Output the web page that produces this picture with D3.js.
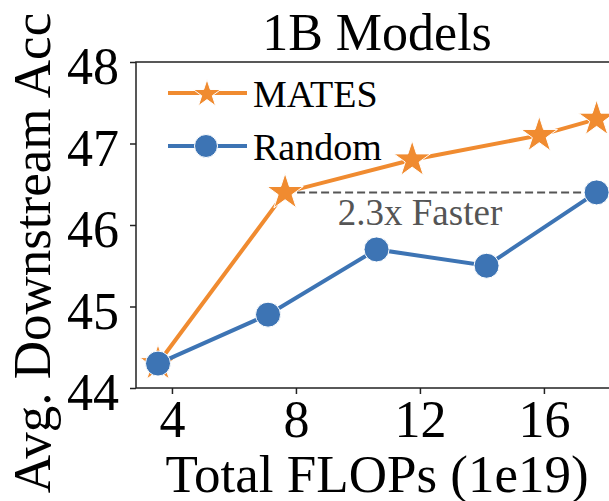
<!DOCTYPE html>
<html>
<head>
<meta charset="utf-8">
<script src="https://cdn.jsdelivr.net/npm/d3@7"></script>
<style>
  html, body { margin: 0; padding: 0; background: #fff; }
  svg { display: block; font-family: "Liberation Serif", "Times New Roman", serif; }
</style>
</head>
<body>
<div id="chart"></div>
<script>
// data
const seriesNames = ["MATES", "Random"]
const matesFlops = [3.55, 7.65, 11.75, 15.85, 17.7]
const matesAcc = [44.3, 46.4, 46.8, 47.1, 47.3]
const randomFlops = [3.55, 7.1, 10.6, 14.15, 17.7]
const randomAcc = [44.3, 44.9, 45.7, 45.5, 46.4]
const xTicks = [4, 8, 12, 16]
const yTicks = [44, 45, 46, 47, 48]
const speedupLabel = "2.3x Faster"

var width = 609, height = 501
var orange = "#f08b30", blue = "#3d74b4"

// the figure is cropped on the right, so the axes run past the svg edge
var x = d3.scaleLinear().domain([2.84, 18.39]).range([136, 618])
var y = d3.scaleLinear().domain([44, 48]).range([388, 62])

var svg = d3.select("#chart").append("svg")
    .attr("width", width)
    .attr("height", height)

// frame
svg.append("rect")
    .attr("x", x.range()[0]).attr("y", y.range()[1])
    .attr("width", x.range()[1] - x.range()[0])
    .attr("height", y.range()[0] - y.range()[1])
    .attr("fill", "none")
    .attr("stroke", "#222")
    .attr("stroke-width", 1.5)

// axes
var xAxis = svg.append("g")
    .attr("transform", "translate(0," + y.range()[0] + ")")
    .call(d3.axisBottom(x).tickValues(xTicks).tickFormat(d3.format("d")).tickSize(6).tickPadding(10))
var yAxis = svg.append("g")
    .attr("transform", "translate(" + x.range()[0] + ",0)")
    .call(d3.axisLeft(y).tickValues(yTicks).tickFormat(d3.format("d")).tickSize(6).tickPadding(11))

;[xAxis, yAxis].forEach(g=>{
  g.select(".domain").remove()
  g.selectAll("line").attr("stroke", "#222").attr("stroke-width", 1.5)
  g.selectAll("text")
    .attr("font-family", "Liberation Serif, serif")
    .attr("font-size", "52px")
    .attr("fill", "#000")
})
xAxis.selectAll("text").attr("dy", "0.71em").attr("y", 12)
yAxis.selectAll("text").attr("dy", "0.42em")

// titles
svg.append("text")
    .attr("x", 377).attr("y", 50)
    .attr("text-anchor", "middle")
    .attr("font-size", "52px")
    .text("1B Models")

svg.append("text")
    .attr("x", 377).attr("y", 492)
    .attr("text-anchor", "middle")
    .attr("font-size", "53px")
    .text("Total FLOPs (1e19)")

svg.append("text")
    .attr("transform", "translate(50,253) rotate(-90)")
    .attr("text-anchor", "middle")
    .attr("font-size", "53px")
    .text("Avg. Downstream Acc")

// speedup annotation
svg.append("line")
    .attr("x1", x(matesFlops[1])).attr("x2", x(randomFlops[4]))
    .attr("y1", y(matesAcc[1])).attr("y2", y(randomAcc[4]))
    .attr("stroke", "#555")
    .attr("stroke-width", 2)
    .attr("stroke-dasharray", "8,4")

svg.append("text")
    .attr("x", 420).attr("y", 225)
    .attr("text-anchor", "middle")
    .attr("font-size", "37px")
    .attr("fill", "#555")
    .text(speedupLabel)

var line = d3.line().x(d=>x(d[0])).y(d=>y(d[1]))
var starPlot = d3.symbol().type(d3.symbolStar).size(410)
var starLegend = d3.symbol().type(d3.symbolStar).size(240)

var mates = d3.zip(matesFlops, matesAcc)
var random = d3.zip(randomFlops, randomAcc)

// MATES
svg.append("path")
    .datum(mates)
    .attr("d", line)
    .attr("fill", "none")
    .attr("stroke", orange)
    .attr("stroke-width", 4)
svg.append("g").selectAll("path")
    .data(mates)
  .enter().append("path")
    .attr("d", starPlot)
    .attr("transform", d=>"translate(" + x(d[0]) + "," + y(d[1]) + ")")
    .attr("fill", orange)
    .attr("stroke", "#fff")
    .attr("stroke-width", 1)

// Random
svg.append("path")
    .datum(random)
    .attr("d", line)
    .attr("fill", "none")
    .attr("stroke", blue)
    .attr("stroke-width", 4)
svg.append("g").selectAll("circle")
    .data(random)
  .enter().append("circle")
    .attr("cx", d=>x(d[0]))
    .attr("cy", d=>y(d[1]))
    .attr("r", 12.5)
    .attr("fill", blue)
    .attr("stroke", "#fff")
    .attr("stroke-width", 1)

// Legend
var legend = svg.append("g").selectAll("g")
    .data(seriesNames)
  .enter().append("g")
    .attr("transform", (d,i)=>"translate(168," + (93 + i*53) + ")")

legend.append("line")
    .attr("x1", 0).attr("x2", 79)
    .attr("stroke", (d,i)=>i == 0 ? orange : blue)
    .attr("stroke-width", 4)
legend.each(function(d,i) {
  var g = d3.select(this)
  if(i == 0) {
    g.append("path").attr("d", starLegend)
      .attr("transform", "translate(39,1)")
      .attr("fill", orange).attr("stroke", "#fff").attr("stroke-width", 1)
  } else {
    g.append("circle").attr("cx", 38).attr("r", 11.5)
      .attr("fill", blue).attr("stroke", "#fff").attr("stroke-width", 1)
  }
})
legend.append("text")
    .attr("x", 85)
    .attr("y", 14)
    .attr("font-size", "38px")
    .text(d=>d)
</script>
</body>
</html>
